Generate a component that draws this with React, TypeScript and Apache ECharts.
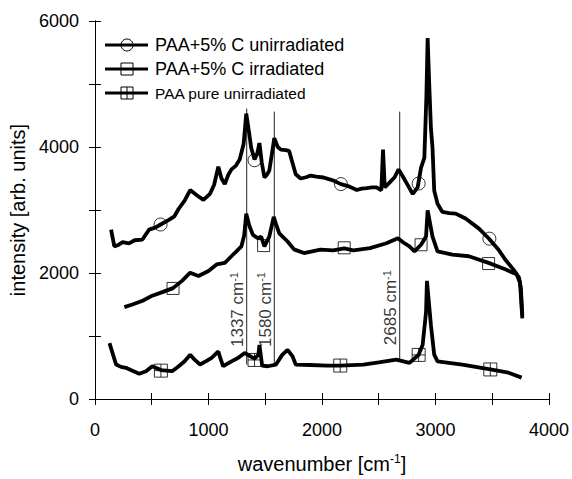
import React, { useEffect, useRef } from "react";
import * as echarts from "echarts";

const FONT = "'Liberation Sans', Arial, Helvetica, sans-serif";

const seriesNames = ["PAA+5% C unirradiated", "PAA+5% C irradiated", "PAA pure unirradiated"];

const unirradiated: [number, number][] = [
  [142, 2688], [171, 2422], [200, 2440], [244, 2490], [300, 2470], [350, 2520], [418, 2531],
  [477, 2688], [530, 2720], [575, 2766], [651, 2844], [700, 2900], [738, 3020], [790, 3150],
  [839, 3317], [900, 3230], [956, 3161], [1013, 3255], [1050, 3400], [1087, 3688], [1115, 3500],
  [1144, 3411], [1175, 3560], [1203, 3645], [1240, 3700], [1275, 3802], [1310, 4050], [1333, 4531],
  [1360, 4200], [1377, 3984], [1406, 3802], [1430, 3900], [1449, 4062], [1470, 3750], [1493, 3516],
  [1515, 3560], [1536, 3625], [1560, 3900], [1580, 4141], [1610, 4000], [1638, 3958], [1680, 3950],
  [1711, 3938], [1740, 3750], [1769, 3567], [1812, 3500], [1860, 3520], [1900, 3547], [1950, 3530],
  [2013, 3516], [2060, 3490], [2100, 3469], [2167, 3411], [2230, 3380], [2307, 3317], [2350, 3340],
  [2394, 3349], [2440, 3360], [2481, 3359], [2523, 3313], [2538, 3958], [2553, 3359], [2597, 3438],
  [2640, 3520], [2675, 3645], [2710, 3540], [2742, 3438], [2800, 3255], [2843, 3359], [2873, 3672],
  [2902, 3828], [2920, 4800], [2931, 5729], [2945, 5000], [2960, 4300], [2974, 3984], [2989, 3307],
  [3018, 3099], [3061, 2969], [3120, 2950], [3178, 2942], [3265, 2864], [3381, 2708], [3468, 2552],
  [3556, 2370], [3614, 2214], [3686, 2058], [3736, 1927], [3753, 1750], [3765, 1328],
];

const irradiated: [number, number][] = [
  [259, 1458], [330, 1500], [420, 1560], [505, 1640], [600, 1700], [688, 1760], [767, 1875],
  [839, 2005], [912, 1953], [1000, 2031], [1072, 2136], [1144, 2161], [1174, 2214], [1231, 2317],
  [1290, 2422], [1315, 2600], [1333, 2942], [1360, 2750], [1392, 2605], [1435, 2552], [1464, 2578],
  [1493, 2422], [1536, 2578], [1575, 2891], [1600, 2750], [1624, 2630], [1697, 2500], [1754, 2375],
  [1841, 2317], [1987, 2370], [2100, 2360], [2196, 2390], [2277, 2359], [2423, 2395], [2568, 2473],
  [2669, 2552], [2720, 2480], [2771, 2422], [2815, 2344], [2873, 2448], [2917, 2578], [2931, 2995],
  [2974, 2578], [3018, 2344], [3149, 2292], [3294, 2266], [3468, 2161], [3614, 2058], [3715, 1980],
  [3745, 1849], [3765, 1281],
];

const pureUnirradiated: [number, number][] = [
  [128, 886], [160, 700], [186, 547], [230, 510], [273, 495], [330, 450], [390, 402], [450, 440],
  [505, 520], [581, 460], [680, 442], [738, 520], [790, 600], [839, 703], [880, 620], [926, 547],
  [980, 600], [1028, 652], [1087, 755], [1110, 620], [1130, 520], [1203, 598], [1260, 650],
  [1319, 730], [1406, 640], [1440, 700], [1449, 859], [1473, 531], [1522, 520], [1595, 547],
  [1650, 700], [1697, 781], [1740, 680], [1769, 547], [1900, 540], [2045, 531], [2161, 531],
  [2364, 547], [2500, 580], [2655, 625], [2771, 573], [2852, 703], [2887, 859], [2917, 1380],
  [2925, 1875], [2960, 1172], [2989, 703], [3018, 598], [3236, 547], [3483, 469], [3643, 417],
  [3759, 339],
];

const unirradiatedMarkers: [number, number][] = [[578, 2770], [1406, 3790], [2167, 3411], [2852, 3420], [3475, 2545]];
const irradiatedMarkers: [number, number][] = [[688, 1755], [1486, 2435], [2196, 2400], [2873, 2448], [3468, 2150]];
const pureMarkers: [number, number][] = [[581, 450], [1406, 620], [2161, 531], [2852, 700], [3483, 469]];

const peakPositions = [1337, 1580, 2685];
const peakTops = [4609, 4562, 4562];
const peakBottoms = [547, 520, 625];
const peakLabelCenters = [1420, 1420, 1450];

const xTicks = { min: 0, max: 4000, step: 500, labelStep: 1000 };
const yTicks = { min: 0, max: 6000, step: 1000, labelStep: 2000 };

const CROSS_SQUARE = "path://M0,0H10V10H0Z M5,0V10 M0,5H10";

export default function App() {
  const ref = useRef<HTMLDivElement>(null);
  useEffect(() => {
    if (!ref.current) return;
    const chart = echarts.init(ref.current, undefined, { renderer: "svg" });

    const axisLine = { show: true, lineStyle: { color: "#000", width: 1 } };
    const tick = { show: true, inside: true, length: 6, lineStyle: { color: "#000", width: 1 } };

    const markerStyle = { color: "rgba(0,0,0,0)", borderColor: "#000", borderWidth: 1 };

    const curve = (name: string, data: [number, number][]) => ({
      name,
      type: "line",
      data,
      showSymbol: false,
      symbol: "none",
      lineStyle: { color: "#000", width: 3.8 },
      z: 2,
    });
    const markers = (name: string, data: [number, number][], symbol: string, size: number) => ({
      name: name + " markers",
      type: "scatter",
      data,
      symbol,
      symbolSize: size,
      itemStyle: markerStyle,
      z: 4,
    });

    const peakLines = peakPositions.map((p, i) => ({
      type: "line",
      data: [[p, peakBottoms[i]], [p, peakTops[i]]],
      symbol: "none",
      lineStyle: { color: "#222", width: 1 },
      z: 1,
    }));
    const peakLabels = peakPositions.map((p, i) => ({
      type: "scatter",
      data: [[p, peakLabelCenters[i]]],
      symbolSize: 0,
      itemStyle: { color: "rgba(0,0,0,0)" },
      label: {
        show: true,
        position: "inside",
        rotate: 90,
        offset: [0, -9],
        formatter: `{a|${p} cm}{s|-1}`,
        rich: {
          a: { fontSize: 17, fontFamily: FONT, color: "#000", lineHeight: 19 },
          s: { fontSize: 11, fontFamily: FONT, color: "#000", verticalAlign: "top", lineHeight: 11 },
        },
      },
      z: 5,
    }));

    const legendRows = [45, 69, 93];
    const legendFont = [18, 18, 15.5];
    const legendSymbols = (i: number, cy: number): any[] => {
      if (i === 0) return [{ type: "circle", shape: { cx: 127, cy, r: 6 }, style: { fill: "none", stroke: "#000", lineWidth: 1 } }];
      if (i === 1) return [{ type: "rect", shape: { x: 121, y: cy - 6, width: 12, height: 12 }, style: { fill: "none", stroke: "#000", lineWidth: 1 } }];
      return [
        { type: "rect", shape: { x: 121, y: cy - 6, width: 12, height: 12 }, style: { fill: "none", stroke: "#000", lineWidth: 1 } },
        { type: "line", shape: { x1: 127, y1: cy - 6, x2: 127, y2: cy + 6 }, style: { stroke: "#000", lineWidth: 1 } },
      ];
    };
    const legendGraphics: any[] = [];
    seriesNames.forEach((n, i) => {
      const cy = legendRows[i];
      legendGraphics.push({ type: "line", shape: { x1: 105, y1: cy, x2: 148, y2: cy }, style: { stroke: "#000", lineWidth: 3 } });
      legendGraphics.push(...legendSymbols(i, cy));
      legendGraphics.push({
        type: "text",
        x: 155,
        y: cy,
        style: { text: n, fontSize: legendFont[i], fontFamily: FONT, fill: "#000", verticalAlign: "middle" },
      });
    });

    chart.setOption({
      animation: false,
      backgroundColor: "#fff",
      grid: { left: 92, top: 21, right: 20, bottom: 74 },
      graphic: legendGraphics,
      xAxis: [
        {
          type: "value",
          min: xTicks.min,
          max: xTicks.max,
          interval: xTicks.step,
          position: "bottom",
          axisLine,
          axisTick: tick,
          splitLine: { show: false },
          axisLabel: {
            fontSize: 18,
            fontFamily: FONT,
            color: "#000",
            margin: 22,
            formatter: (v: number) => (v % xTicks.labelStep === 0 ? String(v) : ""),
          },
          name: "{a|wavenumber [cm}{s|-1}{a|]}",
          nameLocation: "middle",
          nameGap: 54,
          nameTextStyle: {
            rich: {
              a: { fontSize: 20, fontFamily: FONT, color: "#000", lineHeight: 22 },
              s: { fontSize: 12, fontFamily: FONT, color: "#000", verticalAlign: "top", lineHeight: 12 },
            },
          },
        },
        {
          type: "value",
          min: xTicks.min,
          max: xTicks.max,
          interval: xTicks.step,
          position: "top",
          axisLine,
          axisTick: tick,
          axisLabel: { show: false },
          splitLine: { show: false },
        },
      ],
      yAxis: [
        {
          type: "value",
          min: yTicks.min,
          max: yTicks.max,
          interval: yTicks.step,
          position: "left",
          axisLine,
          axisTick: tick,
          splitLine: { show: false },
          axisLabel: {
            fontSize: 18,
            fontFamily: FONT,
            color: "#000",
            margin: 16,
            formatter: (v: number) => (v % yTicks.labelStep === 0 ? String(v) : ""),
          },
          name: "intensity [arb. units]",
          nameLocation: "middle",
          nameGap: 66,
          nameTextStyle: { fontSize: 20, fontFamily: FONT, color: "#000" },
        },
        {
          type: "value",
          min: yTicks.min,
          max: yTicks.max,
          interval: yTicks.step,
          position: "right",
          axisLine,
          axisTick: tick,
          axisLabel: { show: false },
          splitLine: { show: false },
        },
      ],
      series: [
        ...peakLines,
        curve(seriesNames[0], unirradiated),
        curve(seriesNames[1], irradiated),
        curve(seriesNames[2], pureUnirradiated),
        markers(seriesNames[0], unirradiatedMarkers, "circle", 13),
        markers(seriesNames[1], irradiatedMarkers, "rect", 12),
        markers(seriesNames[2], pureMarkers, CROSS_SQUARE, 13),
        ...peakLabels,
      ],
    });
    return () => chart.dispose();
  }, []);
  return <div ref={ref} style={{ position: "absolute", left: 0, top: 0, width: 572, height: 479 }} />;
}
